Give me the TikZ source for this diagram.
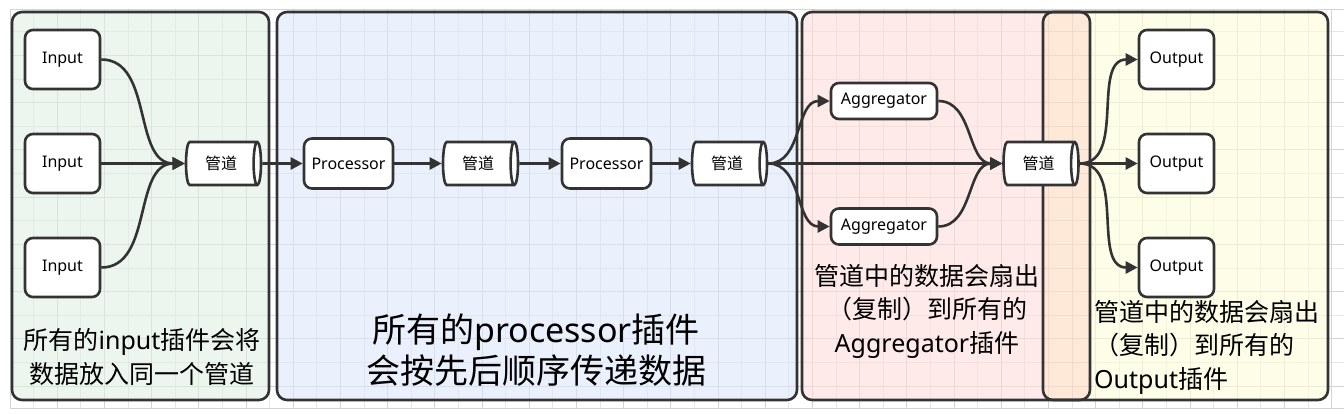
\documentclass[tikz,border=0pt]{standalone}
\usepackage{fontspec}
\setmainfont{Noto Sans}
\newfontfamily\cjk{Noto Sans CJK SC}
\usetikzlibrary{shapes.geometric,arrows.meta}
\definecolor{edge}{HTML}{333333}
\definecolor{gridminor}{HTML}{E6E6E6}
\definecolor{gridmajor}{HTML}{D4D4D4}
\definecolor{inputbg}{HTML}{E1EEE4}
\definecolor{procbg}{HTML}{DCE6FA}
\definecolor{aggbg}{HTML}{FFDCDC}
\definecolor{outbg}{HTML}{FDFCD9}
\definecolor{mixbg}{HTML}{FEE8D8}
\definecolor{mixgrid}{HTML}{F0DACB}
\newcommand{\zh}[1]{{\cjk #1}}
\tikzset{
  plugin/.style={draw=edge, line width=2.6pt, fill=white, rounded corners=8pt, inner sep=0pt, font=\fontsize{16}{19}\selectfont},
  pipe/.style={cylinder, draw=edge, line width=2.6pt, fill=white, minimum width=43pt, minimum height=75pt, aspect=0.5, inner sep=0pt, font=\fontsize{16}{19}\cjk},
  group/.style={draw=edge, line width=2.6pt, rounded corners=10pt},
  flow/.style={draw=edge, line width=2.6pt, -{Triangle[length=12pt,width=12pt]}},
  note/.style={align=center, inner sep=0pt, font=\fontsize{25}{33.5}\selectfont}
}
\begin{document}
\begin{tikzpicture}[x=1pt,y=-1pt]
\useasboundingbox (0,0) rectangle (1344,414);
\foreach \k in {0,...,56} \draw[gridminor, line width=1pt] ({10+23.6*\k},10) -- ({10+23.6*\k},408);
\foreach \k in {0,...,15} \draw[gridminor, line width=1pt] (10,{32+23.6*\k}) -- (1344,{32+23.6*\k});
\foreach \k in {0,2,...,56} \draw[gridmajor, line width=1pt] ({10+23.6*\k},10) -- ({10+23.6*\k},408);
\foreach \k in {1,3,...,15} \draw[gridmajor, line width=1pt] (10,{32+23.6*\k}) -- (1344,{32+23.6*\k});
\draw[gridmajor, line width=1pt] (1344,10) -- (10,10) -- (10,408) -- (1344,408);

\fill[inputbg, fill opacity=0.6, rounded corners=10pt] (12,12) rectangle (269,400);
\fill[procbg, fill opacity=0.6, rounded corners=10pt] (277,12) rectangle (797,400);
\fill[aggbg, fill opacity=0.6, rounded corners=10pt] (802,12) rectangle (1090,400);
\fill[outbg, fill opacity=0.6, rounded corners=10pt] (1043,12) rectangle (1328,400);
\begin{scope}
\clip[rounded corners=10pt] (802,12) rectangle (1090,400);
\clip[rounded corners=10pt] (1043,12) rectangle (1328,400);
\fill[mixbg] (1043,12) rectangle (1090,400);
\foreach \k in {44,45,46} \draw[mixgrid, line width=1pt] ({10+23.6*\k},10) -- ({10+23.6*\k},408);
\foreach \k in {0,...,15} \draw[mixgrid, line width=1pt] (1043,{32+23.6*\k}) -- (1090,{32+23.6*\k});
\end{scope}
\draw[group] (12,12) rectangle (269,400);
\draw[group] (277,12) rectangle (797,400);
\draw[group] (802,12) rectangle (1090,400);
\draw[group] (1043,12) rectangle (1328,400);

\node[note] (inputnote) at (142,357) {\zh{所有的}input\zh{插件会将}\\\zh{数据放入同一个管道}};
\node[note, font=\fontsize{34}{41}\selectfont] (procnote) at (536,350) {\zh{所有的}processor\zh{插件}\\\zh{会按先后顺序传递数据}};
\node[note] (aggnote) at (927,311) {\zh{管道中的数据会扇出}\\\zh{（复制）到所有的}\\Aggregator\zh{插件}};
\node[note, align=left, anchor=west] (outnote) at (1094,347) {\zh{管道中的数据会扇出}\\\zh{（复制）到所有的}\\Output\zh{插件}};

\node[plugin, minimum width=75pt, minimum height=59pt] (in1) at (62.5,59.5) {Input};
\node[plugin, minimum width=75pt, minimum height=59pt] (in2) at (62.5,163.5) {Input};
\node[plugin, minimum width=75pt, minimum height=59pt] (in3) at (62.5,267.5) {Input};
\node[pipe] (p1) at (221,163.5) {管道};
\node[plugin, minimum width=89pt, minimum height=50pt] (proc1) at (348.5,163.5) {Processor};
\node[pipe] (p2) at (478,163.5) {管道};
\node[plugin, minimum width=89pt, minimum height=50pt] (proc2) at (606.5,163.5) {Processor};
\node[pipe] (p3) at (727,163.5) {管道};
\node[plugin, minimum width=106pt, minimum height=36pt] (agg1) at (884,101) {Aggregator};
\node[plugin, minimum width=106pt, minimum height=36pt] (agg2) at (884,226.5) {Aggregator};
\node[pipe] (p4) at (1038.5,163.5) {管道};
\node[plugin, minimum width=75pt, minimum height=59pt] (out1) at (1176.5,59.5) {Output};
\node[plugin, minimum width=75pt, minimum height=59pt] (out2) at (1176.5,163.5) {Output};
\node[plugin, minimum width=75pt, minimum height=59pt] (out3) at (1176.5,267.5) {Output};

\draw[flow] (in1.east) to[out=0,in=180] (p1.west);
\draw[flow] (in2.east) -- (p1.west);
\draw[flow] (in3.east) to[out=0,in=180] (p1.west);
\draw[flow] (p1.east) -- (proc1.west);
\draw[flow] (proc1.east) -- (p2.west);
\draw[flow] (p2.east) -- (proc2.west);
\draw[flow] (proc2.east) -- (p3.west);
\draw[flow] (p3.east) to[out=0,in=180] (agg1.west);
\draw[flow] (p3.east) to[out=0,in=180] (agg2.west);
\draw[flow] (p3.east) -- (p4.west);
\draw[flow] (agg1.east) to[out=0,in=180] (p4.west);
\draw[flow] (agg2.east) to[out=0,in=180] (p4.west);
\draw[flow] (p4.east) to[out=0,in=180] (out1.west);
\draw[flow] (p4.east) -- (out2.west);
\draw[flow] (p4.east) to[out=0,in=180] (out3.west);
\end{tikzpicture}
\end{document}
